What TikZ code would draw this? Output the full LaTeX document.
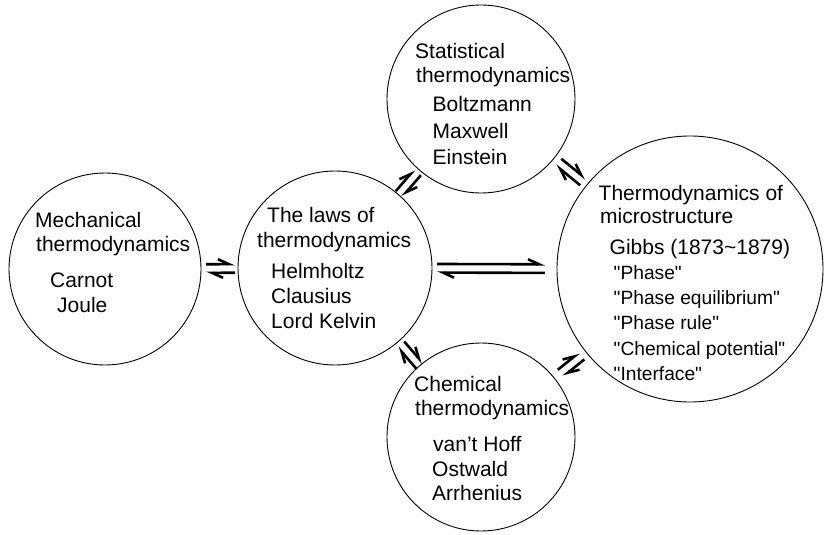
\documentclass[tikz,border=0pt]{standalone}
\usepackage{fontspec}
\setmainfont{Liberation Sans}
\usetikzlibrary{arrows.meta,calc}
\newcommand{\eqpair}[4]{%
  \draw[eqa,shorten <=#3,shorten >=#4] ($(#1)!4.3pt!90:(#2)$) -- ($(#2)!4.3pt!-90:(#1)$);
  \draw[eqa,shorten <=#4,shorten >=#3] ($(#2)!4.3pt!90:(#1)$) -- ($(#1)!4.3pt!-90:(#2)$);}
\newcommand{\qt}[1]{\textquotedbl#1\textquotedbl}
\begin{document}
\begin{tikzpicture}[x=1pt,y=-1pt,
  bub/.style={circle,draw,line width=0.9pt,inner sep=0pt},
  lbl/.style={anchor=base west,inner sep=0pt,font=\fontsize{21}{25}\selectfont},
  sml/.style={lbl,font=\fontsize{19.2}{23}\selectfont},
  eqa/.style={line width=2.6pt,-{Straight Barb[harpoon,length=11pt,width=10pt]}}]
\useasboundingbox (0,0) rectangle (825,535);
% circles
\node[bub,minimum size=192pt] (c1) at (105,269) {};
\node[bub,minimum size=194pt] (c2) at (335,268) {};
\node[bub,minimum size=188pt] (c3) at (481,99) {};
\node[bub,minimum size=188pt] (c4) at (481,437) {};
\node[bub,minimum size=266pt] (c5) at (690,269) {};
% texts circle 1
\node[lbl] (t1a) at (35,227.5) {Mechanical};
\node[lbl] (t1b) at (36,251.5) {thermodynamics};
\node[lbl] (t1c) at (50,287) {Carnot};
\node[lbl] (t1d) at (57,312) {Joule};
% circle 2
\node[lbl] (t2a) at (267,222.5) {The laws of};
\node[lbl] (t2b) at (257,247) {thermodynamics};
\node[lbl] (t2c) at (271,278) {Helmholtz};
\node[lbl] (t2d) at (271,303) {Clausius};
\node[lbl] (t2e) at (271,328) {Lord Kelvin};
% circle 3
\node[lbl] (t3a) at (415,58.5) {Statistical};
\node[lbl] (t3b) at (416,82.5) {thermodynamics};
\node[lbl] (t3c) at (432.5,111.5) {Boltzmann};
\node[lbl] (t3d) at (432.5,138) {Maxwell};
\node[lbl] (t3e) at (432.5,164.5) {Einstein};
% circle 4
\node[lbl] (t4a) at (414,391) {Chemical};
\node[lbl] (t4b) at (415,415) {thermodynamics};
\node[lbl] (t4c) at (433,451) {van’t Hoff};
\node[lbl] (t4d) at (432,476) {Ostwald};
\node[lbl] (t4e) at (432,500) {Arrhenius};
% circle 5
\node[lbl] (t5a) at (598.5,200.5) {Thermodynamics of};
\node[lbl] (t5b) at (600,223.5) {microstructure};
\node[lbl] (t5c) at (609.5,254) {Gibbs (1873\textasciitilde 1879)};
\node[sml] (t5d) at (613.5,279.5) {\qt{Phase}};
\node[sml] (t5e) at (613.5,304.5) {\qt{Phase equilibrium}};
\node[sml] (t5f) at (613.5,329.5) {\qt{Phase rule}};
\node[sml] (t5g) at (613.5,355) {\qt{Chemical potential}};
\node[sml] (t5h) at (613.5,380) {\qt{Interface}};
% equilibrium harpoons
\eqpair{c1}{c2}{101pt}{100pt}
\eqpair{c2}{c3}{98pt}{97pt}
\eqpair{c2}{c4}{101pt}{94pt}
\eqpair{c2}{c5}{102pt}{145pt}
\eqpair{c3}{c5}{100pt}{138pt}
\eqpair{c4}{c5}{102pt}{139pt}
\end{tikzpicture}
\end{document}
